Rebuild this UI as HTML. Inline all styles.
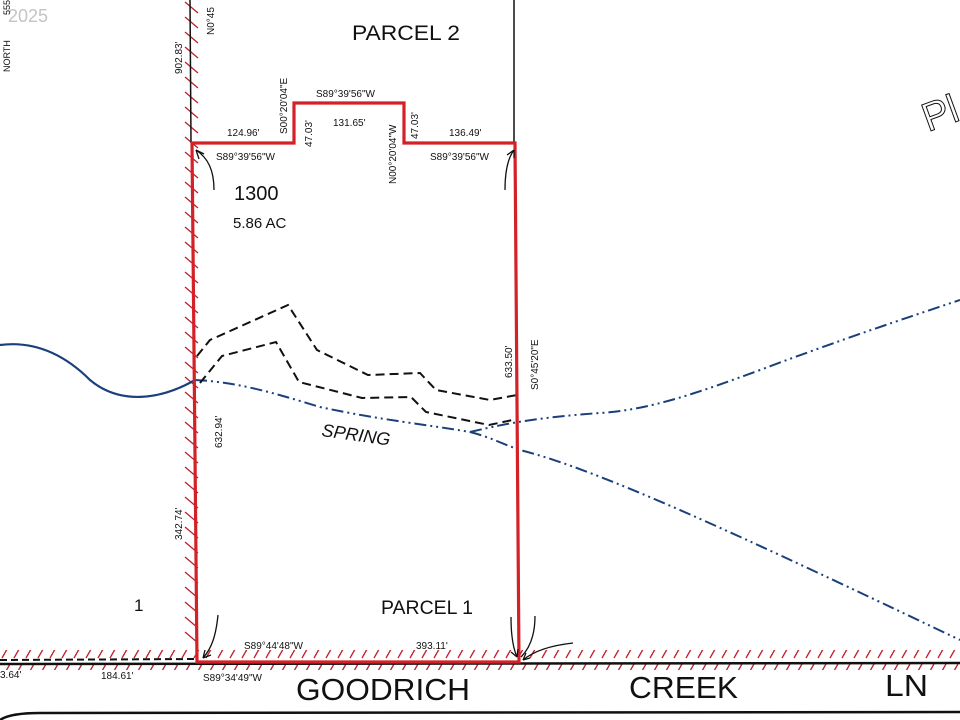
<!DOCTYPE html>
<html><head><style>
html,body{margin:0;padding:0;background:#fff;width:960px;height:720px;overflow:hidden}
svg{display:block}
text{font-family:"Liberation Sans",Arial,sans-serif;fill:#111}
</style></head><body>
<svg width="960" height="720" viewBox="0 0 960 720" xmlns="http://www.w3.org/2000/svg">
<defs>
<pattern id="hh" width="12" height="20" patternUnits="userSpaceOnUse">
<line x1="2" y1="18" x2="10" y2="4" stroke="#c0202a" stroke-width="1.3"/>
</pattern>
</defs>
<g stroke="#c0202a" stroke-width="1.3">
<path d="M185,2 l13,11 M185,17 l13,11 M185,32 l13,11 M185,47 l13,11 M185,62 l13,11 M185,77 l13,11 M185,92 l13,11 M185,107 l13,11 M185,122 l13,11 M185,137 l13,11 M185,152 l13,11 M185,167 l13,11 M185,182 l13,11 M185,197 l13,11 M185,212 l13,11 M185,227 l13,11 M185,242 l13,11 M185,257 l13,11 M185,272 l13,11 M185,287 l13,11 M185,302 l13,11 M185,317 l13,11 M185,332 l13,11 M185,347 l13,11 M185,362 l13,11 M185,377 l13,11 M185,392 l13,11 M185,407 l13,11 M185,422 l13,11 M185,437 l13,11 M185,452 l13,11 M185,467 l13,11 M185,482 l13,11 M185,497 l13,11 M185,512 l13,11 M185,527 l13,11 M185,542 l13,11 M185,557 l13,11 M185,572 l13,11 M185,587 l13,11 M185,602 l13,11 M185,617 l13,11 M185,632 l13,11"/>
</g>
<rect x="0" y="650" width="960" height="20" fill="url(#hh)"/>
<line x1="190" y1="0" x2="191" y2="143" stroke="#111" stroke-width="1.5"/>
<line x1="514" y1="0" x2="514" y2="143" stroke="#111" stroke-width="1.5"/>
<line x1="0" y1="664" x2="960" y2="663" stroke="#111" stroke-width="2.5"/>
<path d="M0,660 L196,659" stroke="#111" stroke-width="2" stroke-dasharray="7,4" fill="none"/>
<path d="M0,720 Q10,713 40,713 L960,712" stroke="#111" stroke-width="2.5" fill="none"/>
<path d="M0,345 C40,340 70,360 90,380 C120,405 160,400 195,380" stroke="#1b3f7a" stroke-width="2.2" fill="none"/>
<path d="M195,380 C240,382 280,395 320,407 C380,420 430,425 470,432 C490,437 505,445 520,450 C600,470 750,540 960,640" stroke="#1b3f7a" stroke-width="2" fill="none" stroke-dasharray="12,4,2,4,2,4"/>
<path d="M470,432 C500,425 530,418 600,413 C650,410 700,392 760,370 C840,340 900,320 960,300" stroke="#1b3f7a" stroke-width="2" fill="none" stroke-dasharray="12,4,2,4,2,4"/>
<path d="M197,356 L210,340 L288,305 L317,350 L368,375 L420,373 L436,390 L490,400 L517,395" stroke="#111" stroke-width="2" fill="none" stroke-dasharray="9,5"/>
<path d="M200,383 L222,356 L276,342 L299,382 L362,398 L411,397 L426,412 L489,425 L517,419" stroke="#111" stroke-width="2" fill="none" stroke-dasharray="9,5"/>
<path d="M192,143 L294,143 L294,103 L404,103 L404,143 L515,143 L519,662 L197,662 Z" stroke="#d42027" stroke-width="3.2" fill="none" stroke-linejoin="miter"/>
<path d="M214,190 C214,170 208,158 196,150" stroke="#111" stroke-width="1.3" fill="none"/>
<path d="M196,150 l3,9 M196,150 l8,4" stroke="#111" stroke-width="1.3"/>
<path d="M505,190 C505,170 508,158 514,150" stroke="#111" stroke-width="1.3" fill="none"/>
<path d="M514,150 l-7,5 M514,150 l0,8" stroke="#111" stroke-width="1.3"/>
<path d="M218,615 C216,635 212,648 203,658" stroke="#111" stroke-width="1.3" fill="none"/>
<path d="M203,658 l8,-3 M203,658 l2,-8" stroke="#111" stroke-width="1.3"/>
<path d="M511,617 C511,635 513,648 517,657" stroke="#111" stroke-width="1.3" fill="none"/>
<path d="M517,657 l-6,-5 M517,657 l1,-8" stroke="#111" stroke-width="1.3"/>
<path d="M535,616 C535,635 530,648 521,657" stroke="#111" stroke-width="1.3" fill="none"/>
<path d="M573,643 C555,645 535,650 523,660" stroke="#111" stroke-width="1.3" fill="none"/>
<path d="M523,660 l7,-2 M523,660 l3,-7" stroke="#111" stroke-width="1.3"/>
<text x="8" y="22" font-size="18" style="fill:#c4c4c4" font-family="Liberation Serif">2025</text>
<text transform="translate(10,72) rotate(-90)" font-size="9">NORTH</text>
<text transform="translate(10,15) rotate(-90)" font-size="9">555.</text>
<text transform="translate(214,35) rotate(-90)" font-size="10">N0°45</text>
<text transform="translate(182,74) rotate(-90)" font-size="10">902.83'</text>
<text x="352" y="40" font-size="21" textLength="108" lengthAdjust="spacingAndGlyphs">PARCEL 2</text>
<text x="316" y="97" font-size="10">S89°39'56"W</text>
<text transform="translate(287,134) rotate(-90)" font-size="10">S00°20'04"E</text>
<text x="227" y="136" font-size="10">124.96'</text>
<text transform="translate(312,147) rotate(-90)" font-size="10">47.03'</text>
<text x="333" y="126" font-size="10">131.65'</text>
<text transform="translate(396,184) rotate(-90)" font-size="10">N00°20'04"W</text>
<text transform="translate(418,139) rotate(-90)" font-size="10">47.03'</text>
<text x="449" y="136" font-size="10">136.49'</text>
<text x="216" y="160" font-size="10">S89°39'56"W</text>
<text x="430" y="160" font-size="10">S89°39'56"W</text>
<text x="234" y="200" font-size="20">1300</text>
<text x="233" y="228" font-size="15">5.86 AC</text>
<text transform="translate(512,378) rotate(-90)" font-size="10">633.50'</text>
<text transform="translate(538,390) rotate(-90)" font-size="10">S0°45'20"E</text>
<text transform="translate(222,448) rotate(-90)" font-size="10">632.94'</text>
<text transform="translate(321,436) rotate(8)" font-size="18" font-style="italic">SPRING</text>
<text transform="translate(182,540) rotate(-90)" font-size="10">342.74'</text>
<text transform="translate(928,132) rotate(-20)" font-size="40" style="fill:none;stroke:#111;stroke-width:1">Pl</text>
<text x="134" y="611" font-size="17">1</text>
<text x="381" y="614" font-size="19" textLength="92" lengthAdjust="spacingAndGlyphs">PARCEL 1</text>
<text x="244" y="649" font-size="10">S89°44'48"W</text>
<text x="416" y="649" font-size="10">393.11'</text>
<text x="0" y="678" font-size="10">3.64'</text>
<text x="101" y="679" font-size="10">184.61'</text>
<text x="203" y="681" font-size="10">S89°34'49"W</text>
<text x="296" y="700" font-size="31" textLength="174" lengthAdjust="spacingAndGlyphs">GOODRICH</text>
<text x="629" y="698" font-size="31" textLength="109" lengthAdjust="spacingAndGlyphs">CREEK</text>
<text x="885" y="696" font-size="31" textLength="43" lengthAdjust="spacingAndGlyphs">LN</text>
</svg>
</body></html>
